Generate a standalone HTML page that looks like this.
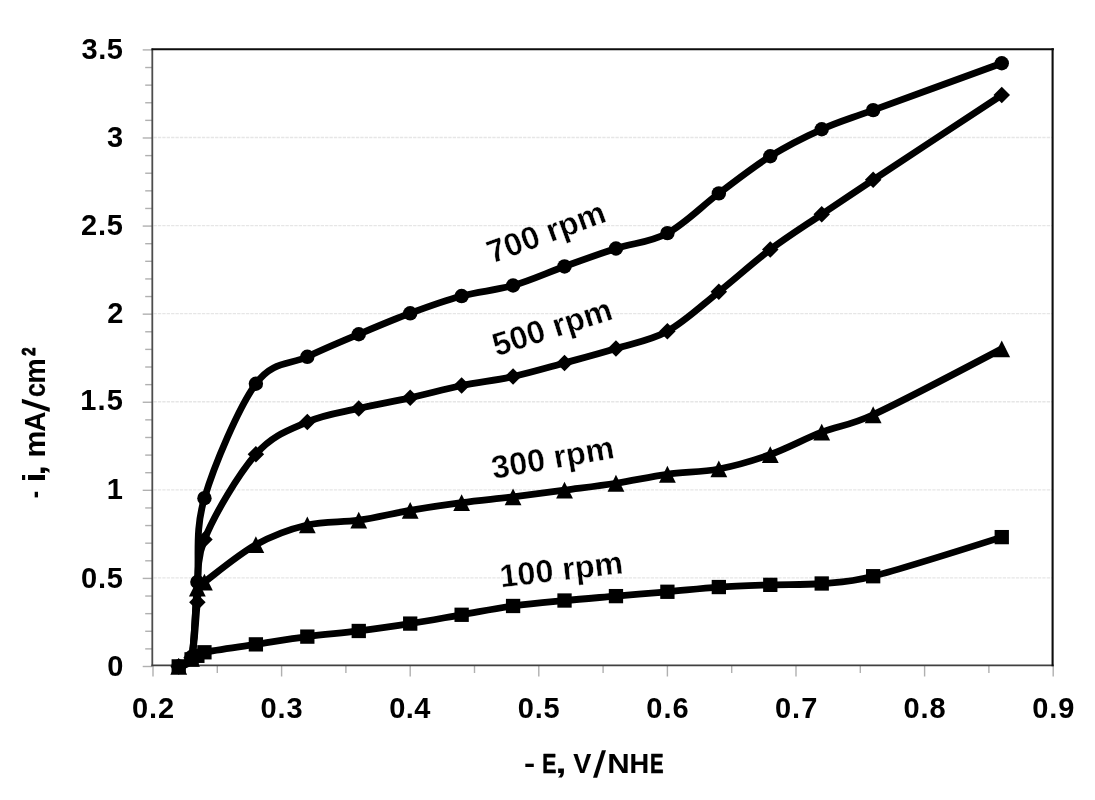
<!DOCTYPE html>
<html><head><meta charset="utf-8"><title>chart</title>
<style>html,body{margin:0;padding:0;background:#fff;}body{width:1095px;height:800px;position:relative;overflow:hidden;font-family:"Liberation Sans",sans-serif;}</style></head>
<body>
<svg width="1095" height="800" viewBox="0 0 1095 800" style="position:absolute;left:0;top:0;filter:grayscale(1)">
<rect x="0" y="0" width="1095" height="800" fill="#fff"/>
<line x1="153.5" x2="1052" y1="577.91" y2="577.91" stroke="#e6e6e6" stroke-width="1.3" stroke-dasharray="3.3,1.1"/>
<line x1="153.5" x2="1052" y1="489.83" y2="489.83" stroke="#e6e6e6" stroke-width="1.3" stroke-dasharray="3.3,1.1"/>
<line x1="153.5" x2="1052" y1="401.75" y2="401.75" stroke="#e6e6e6" stroke-width="1.3" stroke-dasharray="3.3,1.1"/>
<line x1="153.5" x2="1052" y1="313.66" y2="313.66" stroke="#e6e6e6" stroke-width="1.3" stroke-dasharray="3.3,1.1"/>
<line x1="153.5" x2="1052" y1="225.58" y2="225.58" stroke="#e6e6e6" stroke-width="1.3" stroke-dasharray="3.3,1.1"/>
<line x1="153.5" x2="1052" y1="137.49" y2="137.49" stroke="#e6e6e6" stroke-width="1.3" stroke-dasharray="3.3,1.1"/>
<line x1="142.7" x2="152" y1="666.50" y2="666.50" stroke="#b0b0b0" stroke-width="1.4"/>
<line x1="145.2" x2="152" y1="648.88" y2="648.88" stroke="#b0b0b0" stroke-width="1.4"/>
<line x1="145.2" x2="152" y1="631.27" y2="631.27" stroke="#b0b0b0" stroke-width="1.4"/>
<line x1="145.2" x2="152" y1="613.65" y2="613.65" stroke="#b0b0b0" stroke-width="1.4"/>
<line x1="145.2" x2="152" y1="596.03" y2="596.03" stroke="#b0b0b0" stroke-width="1.4"/>
<line x1="142.7" x2="152" y1="578.41" y2="578.41" stroke="#b0b0b0" stroke-width="1.4"/>
<line x1="145.2" x2="152" y1="560.80" y2="560.80" stroke="#b0b0b0" stroke-width="1.4"/>
<line x1="145.2" x2="152" y1="543.18" y2="543.18" stroke="#b0b0b0" stroke-width="1.4"/>
<line x1="145.2" x2="152" y1="525.56" y2="525.56" stroke="#b0b0b0" stroke-width="1.4"/>
<line x1="145.2" x2="152" y1="507.95" y2="507.95" stroke="#b0b0b0" stroke-width="1.4"/>
<line x1="142.7" x2="152" y1="490.33" y2="490.33" stroke="#b0b0b0" stroke-width="1.4"/>
<line x1="145.2" x2="152" y1="472.71" y2="472.71" stroke="#b0b0b0" stroke-width="1.4"/>
<line x1="145.2" x2="152" y1="455.10" y2="455.10" stroke="#b0b0b0" stroke-width="1.4"/>
<line x1="145.2" x2="152" y1="437.48" y2="437.48" stroke="#b0b0b0" stroke-width="1.4"/>
<line x1="145.2" x2="152" y1="419.86" y2="419.86" stroke="#b0b0b0" stroke-width="1.4"/>
<line x1="142.7" x2="152" y1="402.25" y2="402.25" stroke="#b0b0b0" stroke-width="1.4"/>
<line x1="145.2" x2="152" y1="384.63" y2="384.63" stroke="#b0b0b0" stroke-width="1.4"/>
<line x1="145.2" x2="152" y1="367.01" y2="367.01" stroke="#b0b0b0" stroke-width="1.4"/>
<line x1="145.2" x2="152" y1="349.39" y2="349.39" stroke="#b0b0b0" stroke-width="1.4"/>
<line x1="145.2" x2="152" y1="331.78" y2="331.78" stroke="#b0b0b0" stroke-width="1.4"/>
<line x1="142.7" x2="152" y1="314.16" y2="314.16" stroke="#b0b0b0" stroke-width="1.4"/>
<line x1="145.2" x2="152" y1="296.54" y2="296.54" stroke="#b0b0b0" stroke-width="1.4"/>
<line x1="145.2" x2="152" y1="278.93" y2="278.93" stroke="#b0b0b0" stroke-width="1.4"/>
<line x1="145.2" x2="152" y1="261.31" y2="261.31" stroke="#b0b0b0" stroke-width="1.4"/>
<line x1="145.2" x2="152" y1="243.69" y2="243.69" stroke="#b0b0b0" stroke-width="1.4"/>
<line x1="142.7" x2="152" y1="226.08" y2="226.08" stroke="#b0b0b0" stroke-width="1.4"/>
<line x1="145.2" x2="152" y1="208.46" y2="208.46" stroke="#b0b0b0" stroke-width="1.4"/>
<line x1="145.2" x2="152" y1="190.84" y2="190.84" stroke="#b0b0b0" stroke-width="1.4"/>
<line x1="145.2" x2="152" y1="173.22" y2="173.22" stroke="#b0b0b0" stroke-width="1.4"/>
<line x1="145.2" x2="152" y1="155.61" y2="155.61" stroke="#b0b0b0" stroke-width="1.4"/>
<line x1="142.7" x2="152" y1="137.99" y2="137.99" stroke="#b0b0b0" stroke-width="1.4"/>
<line x1="145.2" x2="152" y1="120.37" y2="120.37" stroke="#b0b0b0" stroke-width="1.4"/>
<line x1="145.2" x2="152" y1="102.76" y2="102.76" stroke="#b0b0b0" stroke-width="1.4"/>
<line x1="145.2" x2="152" y1="85.14" y2="85.14" stroke="#b0b0b0" stroke-width="1.4"/>
<line x1="145.2" x2="152" y1="67.52" y2="67.52" stroke="#b0b0b0" stroke-width="1.4"/>
<line x1="142.7" x2="152" y1="49.91" y2="49.91" stroke="#b0b0b0" stroke-width="1.4"/>
<line x1="153.00" x2="153.00" y1="666" y2="676.5" stroke="#b0b0b0" stroke-width="1.4"/>
<line x1="217.30" x2="217.30" y1="666" y2="673.0" stroke="#b0b0b0" stroke-width="1.4"/>
<line x1="281.60" x2="281.60" y1="666" y2="676.5" stroke="#b0b0b0" stroke-width="1.4"/>
<line x1="345.90" x2="345.90" y1="666" y2="673.0" stroke="#b0b0b0" stroke-width="1.4"/>
<line x1="410.20" x2="410.20" y1="666" y2="676.5" stroke="#b0b0b0" stroke-width="1.4"/>
<line x1="474.50" x2="474.50" y1="666" y2="673.0" stroke="#b0b0b0" stroke-width="1.4"/>
<line x1="538.80" x2="538.80" y1="666" y2="676.5" stroke="#b0b0b0" stroke-width="1.4"/>
<line x1="603.10" x2="603.10" y1="666" y2="673.0" stroke="#b0b0b0" stroke-width="1.4"/>
<line x1="667.40" x2="667.40" y1="666" y2="676.5" stroke="#b0b0b0" stroke-width="1.4"/>
<line x1="731.70" x2="731.70" y1="666" y2="673.0" stroke="#b0b0b0" stroke-width="1.4"/>
<line x1="796.00" x2="796.00" y1="666" y2="676.5" stroke="#b0b0b0" stroke-width="1.4"/>
<line x1="860.30" x2="860.30" y1="666" y2="673.0" stroke="#b0b0b0" stroke-width="1.4"/>
<line x1="924.60" x2="924.60" y1="666" y2="676.5" stroke="#b0b0b0" stroke-width="1.4"/>
<line x1="988.90" x2="988.90" y1="666" y2="673.0" stroke="#b0b0b0" stroke-width="1.4"/>
<line x1="1053.20" x2="1053.20" y1="666" y2="676.5" stroke="#b0b0b0" stroke-width="1.4"/>
<line x1="152.3" x2="152.3" y1="48.4" y2="666.2" stroke="#4d4d4d" stroke-width="1.8"/>
<line x1="151.4" x2="1053.7" y1="665.3" y2="665.3" stroke="#404040" stroke-width="1.8"/>
<line x1="151.5" x2="1053.9" y1="49.2" y2="49.2" stroke="#0d0d0d" stroke-width="2"/>
<line x1="1052.6" x2="1052.6" y1="48.2" y2="666.2" stroke="#0d0d0d" stroke-width="2.1"/>
<path d="M178.72,666.38 C178.72,666.38 188.47,661.10 191.58,659.34 C194.53,657.67 195.22,656.99 197.37,655.81 C199.51,654.64 200.56,653.05 204.44,652.29 C214.19,650.38 238.73,646.98 255.88,644.37 C273.03,641.76 290.17,638.85 307.32,636.62 C324.47,634.39 341.61,633.16 358.76,630.98 C375.91,628.81 393.05,626.29 410.20,623.59 C427.35,620.89 444.49,617.72 461.64,614.78 C478.79,611.85 495.93,608.36 513.08,605.98 C530.23,603.60 547.37,602.16 564.52,600.52 C581.67,598.88 598.81,597.58 615.96,596.12 C633.11,594.66 650.25,593.28 667.40,591.77 C684.55,590.26 701.69,588.20 718.84,587.05 C735.99,585.89 753.13,585.44 770.28,584.85 C787.43,584.25 804.57,584.93 821.72,583.49 C838.87,582.05 848.01,582.70 873.16,576.22 C903.17,568.49 1001.76,537.12 1001.76,537.12" fill="none" stroke="#000" stroke-width="6.8" stroke-linejoin="round" stroke-linecap="round"/>
<rect x="171.57" y="659.23" width="14.3" height="14.3" fill="#000"/>
<rect x="184.43" y="652.19" width="14.3" height="14.3" fill="#000"/>
<rect x="190.22" y="648.66" width="14.3" height="14.3" fill="#000"/>
<rect x="197.29" y="645.14" width="14.3" height="14.3" fill="#000"/>
<rect x="248.73" y="637.22" width="14.3" height="14.3" fill="#000"/>
<rect x="300.17" y="629.47" width="14.3" height="14.3" fill="#000"/>
<rect x="351.61" y="623.83" width="14.3" height="14.3" fill="#000"/>
<rect x="403.05" y="616.44" width="14.3" height="14.3" fill="#000"/>
<rect x="454.49" y="607.63" width="14.3" height="14.3" fill="#000"/>
<rect x="505.93" y="598.83" width="14.3" height="14.3" fill="#000"/>
<rect x="557.37" y="593.37" width="14.3" height="14.3" fill="#000"/>
<rect x="608.81" y="588.97" width="14.3" height="14.3" fill="#000"/>
<rect x="660.25" y="584.62" width="14.3" height="14.3" fill="#000"/>
<rect x="711.69" y="579.90" width="14.3" height="14.3" fill="#000"/>
<rect x="763.13" y="577.70" width="14.3" height="14.3" fill="#000"/>
<rect x="814.57" y="576.34" width="14.3" height="14.3" fill="#000"/>
<rect x="866.01" y="569.07" width="14.3" height="14.3" fill="#000"/>
<rect x="994.61" y="529.97" width="14.3" height="14.3" fill="#000"/>
<path d="M178.72,666.38 C178.72,666.38 189.83,665.80 191.58,658.46 C194.69,645.40 195.22,600.75 197.37,588.02 C198.14,583.45 200.72,584.79 204.44,582.03 C214.19,574.81 238.73,554.20 255.88,544.70 C273.03,535.19 290.17,529.05 307.32,524.97 C324.47,520.89 341.61,522.65 358.76,520.22 C375.91,517.78 393.05,513.29 410.20,510.36 C427.35,507.42 444.49,504.87 461.64,502.61 C478.79,500.35 495.93,498.88 513.08,496.80 C530.23,494.71 547.37,492.36 564.52,490.10 C581.67,487.84 598.81,485.88 615.96,483.24 C633.11,480.59 650.25,476.63 667.40,474.26 C684.55,471.88 701.69,472.26 718.84,468.97 C735.99,465.69 753.13,460.67 770.28,454.53 C787.43,448.40 804.57,438.80 821.72,432.17 C838.87,425.53 848.51,426.14 873.16,414.73 C903.17,400.85 1001.76,348.87 1001.76,348.87" fill="none" stroke="#000" stroke-width="6.8" stroke-linejoin="round" stroke-linecap="round"/>
<path d="M178.72,657.98 L187.12,674.78 L170.32,674.78 Z" fill="#000"/>
<path d="M191.58,650.06 L199.98,666.86 L183.18,666.86 Z" fill="#000"/>
<path d="M197.37,579.62 L205.77,596.42 L188.97,596.42 Z" fill="#000"/>
<path d="M204.44,573.63 L212.84,590.43 L196.04,590.43 Z" fill="#000"/>
<path d="M255.88,536.30 L264.28,553.10 L247.48,553.10 Z" fill="#000"/>
<path d="M307.32,516.57 L315.72,533.37 L298.92,533.37 Z" fill="#000"/>
<path d="M358.76,511.82 L367.16,528.62 L350.36,528.62 Z" fill="#000"/>
<path d="M410.20,501.96 L418.60,518.76 L401.80,518.76 Z" fill="#000"/>
<path d="M461.64,494.21 L470.04,511.01 L453.24,511.01 Z" fill="#000"/>
<path d="M513.08,488.40 L521.48,505.20 L504.68,505.20 Z" fill="#000"/>
<path d="M564.52,481.70 L572.92,498.50 L556.12,498.50 Z" fill="#000"/>
<path d="M615.96,474.84 L624.36,491.64 L607.56,491.64 Z" fill="#000"/>
<path d="M667.40,465.86 L675.80,482.66 L659.00,482.66 Z" fill="#000"/>
<path d="M718.84,460.57 L727.24,477.37 L710.44,477.37 Z" fill="#000"/>
<path d="M770.28,446.13 L778.68,462.93 L761.88,462.93 Z" fill="#000"/>
<path d="M821.72,423.77 L830.12,440.57 L813.32,440.57 Z" fill="#000"/>
<path d="M873.16,406.33 L881.56,423.13 L864.76,423.13 Z" fill="#000"/>
<path d="M1001.76,340.47 L1010.16,357.27 L993.36,357.27 Z" fill="#000"/>
<path d="M178.72,666.38 C178.72,666.38 189.42,665.19 191.58,657.75 C194.69,647.07 195.22,621.97 197.37,602.28 C199.51,582.59 194.69,564.27 204.44,539.59 C214.19,514.91 238.73,473.79 255.88,454.18 C273.03,434.57 290.17,429.58 307.32,421.95 C324.47,414.32 341.61,412.41 358.76,408.39 C375.91,404.37 393.05,401.64 410.20,397.83 C427.35,394.01 444.49,389.05 461.64,385.50 C478.79,381.95 495.93,380.28 513.08,376.52 C530.23,372.76 547.37,367.63 564.52,362.96 C581.67,358.29 598.81,353.80 615.96,348.52 C633.11,343.24 650.25,340.71 667.40,331.26 C684.55,321.81 701.69,305.43 718.84,291.82 C735.99,278.20 753.13,262.47 770.28,249.55 C787.43,236.64 804.57,225.95 821.72,214.33 C838.87,202.71 847.34,196.92 873.16,179.82 C903.17,159.95 1001.76,95.11 1001.76,95.11" fill="none" stroke="#000" stroke-width="6.8" stroke-linejoin="round" stroke-linecap="round"/>
<path d="M178.72,658.13 L186.97,666.38 L178.72,674.63 L170.47,666.38 Z" fill="#000"/>
<path d="M191.58,649.50 L199.83,657.75 L191.58,666.00 L183.33,657.75 Z" fill="#000"/>
<path d="M197.37,594.03 L205.62,602.28 L197.37,610.53 L189.12,602.28 Z" fill="#000"/>
<path d="M204.44,531.34 L212.69,539.59 L204.44,547.84 L196.19,539.59 Z" fill="#000"/>
<path d="M255.88,445.93 L264.13,454.18 L255.88,462.43 L247.63,454.18 Z" fill="#000"/>
<path d="M307.32,413.70 L315.57,421.95 L307.32,430.20 L299.07,421.95 Z" fill="#000"/>
<path d="M358.76,400.14 L367.01,408.39 L358.76,416.64 L350.51,408.39 Z" fill="#000"/>
<path d="M410.20,389.58 L418.45,397.83 L410.20,406.08 L401.95,397.83 Z" fill="#000"/>
<path d="M461.64,377.25 L469.89,385.50 L461.64,393.75 L453.39,385.50 Z" fill="#000"/>
<path d="M513.08,368.27 L521.33,376.52 L513.08,384.77 L504.83,376.52 Z" fill="#000"/>
<path d="M564.52,354.71 L572.77,362.96 L564.52,371.21 L556.27,362.96 Z" fill="#000"/>
<path d="M615.96,340.27 L624.21,348.52 L615.96,356.77 L607.71,348.52 Z" fill="#000"/>
<path d="M667.40,323.01 L675.65,331.26 L667.40,339.51 L659.15,331.26 Z" fill="#000"/>
<path d="M718.84,283.57 L727.09,291.82 L718.84,300.07 L710.59,291.82 Z" fill="#000"/>
<path d="M770.28,241.30 L778.53,249.55 L770.28,257.80 L762.03,249.55 Z" fill="#000"/>
<path d="M821.72,206.08 L829.97,214.33 L821.72,222.58 L813.47,214.33 Z" fill="#000"/>
<path d="M873.16,171.57 L881.41,179.82 L873.16,188.07 L864.91,179.82 Z" fill="#000"/>
<path d="M1001.76,86.86 L1010.01,95.11 L1001.76,103.36 L993.51,95.11 Z" fill="#000"/>
<path d="M178.72,666.38 C178.72,666.38 189.87,664.80 191.58,657.05 C194.69,642.99 195.22,608.50 197.37,582.03 C199.51,555.55 194.69,531.25 204.44,498.21 C214.19,465.16 238.73,407.31 255.88,383.74 C272.96,360.26 290.17,365.04 307.32,356.80 C324.47,348.55 341.61,341.51 358.76,334.26 C375.91,327.01 393.05,319.67 410.20,313.30 C427.35,306.93 444.49,300.68 461.64,296.04 C478.79,291.40 495.93,290.41 513.08,285.48 C530.23,280.55 547.37,272.62 564.52,266.46 C581.67,260.29 598.81,254.04 615.96,248.50 C633.11,242.95 650.25,242.36 667.40,233.17 C684.55,223.99 701.69,206.20 718.84,193.38 C735.99,180.55 753.13,166.90 770.28,156.22 C787.43,145.54 804.57,136.97 821.72,129.28 C838.87,121.59 847.39,119.53 873.16,110.08 C903.17,99.07 1001.76,63.24 1001.76,63.24" fill="none" stroke="#000" stroke-width="6.8" stroke-linejoin="round" stroke-linecap="round"/>
<circle cx="178.72" cy="666.38" r="7.2" fill="#000"/>
<circle cx="191.58" cy="657.05" r="7.2" fill="#000"/>
<circle cx="197.37" cy="582.03" r="7.2" fill="#000"/>
<circle cx="204.44" cy="498.21" r="7.2" fill="#000"/>
<circle cx="255.88" cy="383.74" r="7.2" fill="#000"/>
<circle cx="307.32" cy="356.80" r="7.2" fill="#000"/>
<circle cx="358.76" cy="334.26" r="7.2" fill="#000"/>
<circle cx="410.20" cy="313.30" r="7.2" fill="#000"/>
<circle cx="461.64" cy="296.04" r="7.2" fill="#000"/>
<circle cx="513.08" cy="285.48" r="7.2" fill="#000"/>
<circle cx="564.52" cy="266.46" r="7.2" fill="#000"/>
<circle cx="615.96" cy="248.50" r="7.2" fill="#000"/>
<circle cx="667.40" cy="233.17" r="7.2" fill="#000"/>
<circle cx="718.84" cy="193.38" r="7.2" fill="#000"/>
<circle cx="770.28" cy="156.22" r="7.2" fill="#000"/>
<circle cx="821.72" cy="129.28" r="7.2" fill="#000"/>
<circle cx="873.16" cy="110.08" r="7.2" fill="#000"/>
<circle cx="1001.76" cy="63.24" r="7.2" fill="#000"/>
<text x="107.16" y="676.20" font-size="29" letter-spacing="0.000" font-family="Liberation Sans, sans-serif" font-weight="bold" fill="#000">0</text>
<text x="80.95" y="587.61" font-size="29" letter-spacing="0.820" font-family="Liberation Sans, sans-serif" font-weight="bold" fill="#000">0.5</text>
<text x="106.78" y="499.13" font-size="29" letter-spacing="0.000" font-family="Liberation Sans, sans-serif" font-weight="bold" fill="#000">1</text>
<text x="80.27" y="410.44" font-size="29" letter-spacing="1.160" font-family="Liberation Sans, sans-serif" font-weight="bold" fill="#000">1.5</text>
<text x="107.13" y="322.96" font-size="29" letter-spacing="0.000" font-family="Liberation Sans, sans-serif" font-weight="bold" fill="#000">2</text>
<text x="81.09" y="234.58" font-size="29" letter-spacing="0.749" font-family="Liberation Sans, sans-serif" font-weight="bold" fill="#000">2.5</text>
<text x="107.02" y="146.79" font-size="29" letter-spacing="0.000" font-family="Liberation Sans, sans-serif" font-weight="bold" fill="#000">3</text>
<text x="81.43" y="59.21" font-size="29" letter-spacing="0.579" font-family="Liberation Sans, sans-serif" font-weight="bold" fill="#000">3.5</text>
<text x="131.95" y="718.00" font-size="29" letter-spacing="0.997" font-family="Liberation Sans, sans-serif" font-weight="bold" fill="#000">0.2</text>
<text x="260.55" y="718.00" font-size="29" letter-spacing="0.940" font-family="Liberation Sans, sans-serif" font-weight="bold" fill="#000">0.3</text>
<text x="389.15" y="718.00" font-size="29" letter-spacing="0.494" font-family="Liberation Sans, sans-serif" font-weight="bold" fill="#000">0.4</text>
<text x="517.75" y="718.00" font-size="29" letter-spacing="0.820" font-family="Liberation Sans, sans-serif" font-weight="bold" fill="#000">0.5</text>
<text x="646.35" y="718.00" font-size="29" letter-spacing="0.940" font-family="Liberation Sans, sans-serif" font-weight="bold" fill="#000">0.6</text>
<text x="774.95" y="718.00" font-size="29" letter-spacing="1.054" font-family="Liberation Sans, sans-serif" font-weight="bold" fill="#000">0.7</text>
<text x="903.55" y="718.00" font-size="29" letter-spacing="0.863" font-family="Liberation Sans, sans-serif" font-weight="bold" fill="#000">0.8</text>
<text x="1032.15" y="718.00" font-size="29" letter-spacing="0.955" font-family="Liberation Sans, sans-serif" font-weight="bold" fill="#000">0.9</text>
<text transform="translate(523.89,773.43) scale(1.1956,0.9892)" font-size="28" font-family="Liberation Sans, sans-serif" font-weight="bold" fill="#000">-</text>
<text transform="translate(542.34,773.04) scale(0.7569,0.9858)" font-size="28" font-family="Liberation Sans, sans-serif" font-weight="bold" fill="#000" stroke="#000" stroke-width="0.51" stroke-linejoin="round" vector-effect="non-scaling-stroke">E</text>
<text transform="translate(555.30,773.22) scale(1.4728,1.0348)" font-size="28" font-family="Liberation Sans, sans-serif" font-weight="bold" fill="#000">,</text>
<text transform="translate(573.37,773.24) scale(0.9667,1.0062)" font-size="28" font-family="Liberation Sans, sans-serif" font-weight="bold" fill="#000" stroke="#000" stroke-width="0.12" stroke-linejoin="round" vector-effect="non-scaling-stroke">V</text>
<text transform="translate(592.66,776.96) skewX(-8.00) scale(1.2631,1.3190)" font-size="28" font-family="Liberation Sans, sans-serif" font-weight="bold" fill="#000">/</text>
<text transform="translate(607.22,773.30) scale(1.1117,1.0123)" font-size="28" font-family="Liberation Sans, sans-serif" font-weight="bold" fill="#000">N</text>
<text transform="translate(629.43,773.25) scale(0.9716,1.0067)" font-size="28" font-family="Liberation Sans, sans-serif" font-weight="bold" fill="#000" stroke="#000" stroke-width="0.11" stroke-linejoin="round" vector-effect="non-scaling-stroke">H</text>
<text transform="translate(649.92,773.02) scale(0.7279,0.9829)" font-size="28" font-family="Liberation Sans, sans-serif" font-weight="bold" fill="#000" stroke="#000" stroke-width="0.56" stroke-linejoin="round" vector-effect="non-scaling-stroke">E</text>
<g transform="translate(45.25,497.5) rotate(-90)">
<text transform="translate(-0.86,-1.28) scale(0.7877,1.0042)" font-size="28" font-family="Liberation Sans, sans-serif" font-weight="bold" fill="#000">-</text>
<text transform="translate(14.96,0.00) scale(1.3015,1.1139)" font-size="28" font-family="Liberation Sans, sans-serif" font-weight="bold" fill="#000">i</text>
<text transform="translate(21.74,-0.04) scale(1.3980,1.0701)" font-size="28" font-family="Liberation Sans, sans-serif" font-weight="bold" fill="#000">,</text>
<text transform="translate(39.90,-0.00) scale(1.0838,1.0278)" font-size="28" font-family="Liberation Sans, sans-serif" font-weight="bold" fill="#000">m</text>
<text transform="translate(65.83,-0.03) scale(0.9977,1.0248)" font-size="28" font-family="Liberation Sans, sans-serif" font-weight="bold" fill="#000" stroke="#000" stroke-width="0.06" stroke-linejoin="round" vector-effect="non-scaling-stroke">A</text>
<text transform="translate(85.36,3.85) skewX(-8.00) scale(1.2760,1.3382)" font-size="28" font-family="Liberation Sans, sans-serif" font-weight="bold" fill="#000">/</text>
<text transform="translate(100.39,-0.10) scale(0.8976,1.0273)" font-size="28" font-family="Liberation Sans, sans-serif" font-weight="bold" fill="#000" stroke="#000" stroke-width="0.24" stroke-linejoin="round" vector-effect="non-scaling-stroke">c</text>
<text transform="translate(113.70,-0.00) scale(1.0274,1.0278)" font-size="28" font-family="Liberation Sans, sans-serif" font-weight="bold" fill="#000" stroke="#000" stroke-width="0.00" stroke-linejoin="round" vector-effect="non-scaling-stroke">m</text>
<text transform="translate(141.84,-10.71) scale(0.5331,0.6566)" font-size="28" font-family="Liberation Sans, sans-serif" font-weight="bold" fill="#000" stroke="#000" stroke-width="0.91" stroke-linejoin="round" vector-effect="non-scaling-stroke">2</text>
</g>
<g transform="translate(491.7,263.8) rotate(-20.1)"><text x="0" y="0" font-size="32.3" font-family="Liberation Sans, sans-serif" font-weight="bold" fill="#000" stroke="#fff" stroke-width="0.4">700 rpm</text></g>
<g transform="translate(496.4,356.5) rotate(-17.8)"><text x="0" y="0" font-size="32.3" font-family="Liberation Sans, sans-serif" font-weight="bold" fill="#000" stroke="#fff" stroke-width="0.4">500 rpm</text></g>
<g transform="translate(493.5,479.0) rotate(-9.8)"><text x="0" y="0" font-size="32.3" font-family="Liberation Sans, sans-serif" font-weight="bold" fill="#000" stroke="#fff" stroke-width="0.4">300 rpm</text></g>
<g transform="translate(501.0,587.5) rotate(-6.7)"><text x="0" y="0" font-size="32.3" font-family="Liberation Sans, sans-serif" font-weight="bold" fill="#000" stroke="#fff" stroke-width="0.4">100 rpm</text></g>
</svg>
</body></html>
